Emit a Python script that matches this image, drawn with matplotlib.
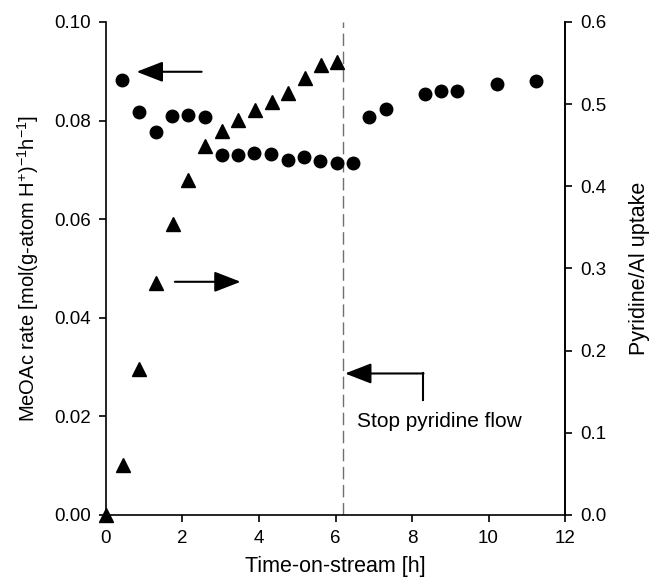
import matplotlib
matplotlib.use("Agg")
import matplotlib.pyplot as plt

plt.rcParams['font.family'] = ['Liberation Sans', 'DejaVu Sans']
plt.rcParams['mathtext.fontset'] = 'custom'
plt.rcParams['mathtext.rm'] = 'Liberation Sans'
plt.rcParams['mathtext.it'] = 'Liberation Sans:italic'

# MeOAc rate (left axis)
rate_t = [0.43, 0.87, 1.30, 1.73, 2.15, 2.59, 3.02, 3.44, 3.87, 4.31, 4.75, 5.18, 5.59, 6.03, 6.45,
          6.88, 7.32, 8.34, 8.76, 9.18, 10.21, 11.24]
rate = [0.0883, 0.0817, 0.0776, 0.0809, 0.0811, 0.0808, 0.0730, 0.0730, 0.0734, 0.0732, 0.0721,
        0.0727, 0.0719, 0.0714, 0.0714, 0.0808, 0.0824, 0.0854, 0.0860, 0.0861, 0.0874, 0.0880]

# Pyridine/Al uptake (right axis)
upt_t = [0.0, 0.44, 0.87, 1.31, 1.74, 2.15, 2.59, 3.03, 3.45, 3.89, 4.33, 4.76, 5.20, 5.62, 6.04]
uptake = [0.0, 0.061, 0.178, 0.282, 0.354, 0.408, 0.449, 0.467, 0.481, 0.493, 0.503, 0.514,
          0.532, 0.548, 0.551]

stop_t = 6.2

fig = plt.figure(figsize=(6.49, 5.86), dpi=100)
ax = fig.add_axes([0.1633, 0.1212, 0.7073, 0.8413])
ax2 = ax.twinx()

ax.plot(rate_t, rate, 'o', color='black', markersize=9, clip_on=False, zorder=3)
ax2.plot(upt_t, uptake, '^', color='black', markersize=9.5, clip_on=False, zorder=3)

ax.axvline(stop_t, color='#707070', lw=1.0, ls=(0, (9, 4)), zorder=1)

ax.set_xlim(0, 12)
ax.set_ylim(0, 0.10)
ax2.set_ylim(0, 0.6)
ax.set_xticks([0, 2, 4, 6, 8, 10, 12])
ax.set_yticks([0.0, 0.02, 0.04, 0.06, 0.08, 0.10])
ax.set_yticklabels(['0.00', '0.02', '0.04', '0.06', '0.08', '0.10'])
ax2.set_yticks([0.0, 0.1, 0.2, 0.3, 0.4, 0.5, 0.6])
ax2.set_yticklabels(['0.0', '0.1', '0.2', '0.3', '0.4', '0.5', '0.6'])

for a in (ax, ax2):
    a.spines['top'].set_visible(False)
    for s in a.spines.values():
        s.set_linewidth(1.2)
    a.tick_params(direction='out', length=5, width=1.2, labelsize=13.5, pad=6)
ax2.spines['left'].set_visible(False)
ax2.spines['bottom'].set_visible(False)

ax.set_xlabel('Time-on-stream [h]', fontsize=15.5, labelpad=6)
ax.set_ylabel('MeOAc rate [mol(g-atom H$^{+}$)$^{-1}$h$^{-1}$]', fontsize=14.5, labelpad=9)
ax2.set_ylabel('Pyridine/Al uptake', fontsize=15.5, labelpad=16)

arrow = dict(arrowstyle='-|>,head_length=0.9,head_width=0.35', color='black', lw=1.5,
             shrinkA=0, shrinkB=0, mutation_scale=18)
ax.annotate('', xy=(0.80, 0.0899), xytext=(2.5, 0.0899), arrowprops=arrow)
ax.annotate('', xy=(3.52, 0.0473), xytext=(1.80, 0.0473), arrowprops=arrow)

# elbow arrow pointing at the dashed line
ax.plot([8.30, 8.30], [0.0233, 0.0287], color='black', lw=1.5)
ax.annotate('', xy=(6.25, 0.0287), xytext=(8.30, 0.0287), arrowprops=arrow)
ax.text(6.55, 0.0189, 'Stop pyridine flow', fontsize=15, va='center', ha='left')

fig.savefig('out.png', dpi=100)
